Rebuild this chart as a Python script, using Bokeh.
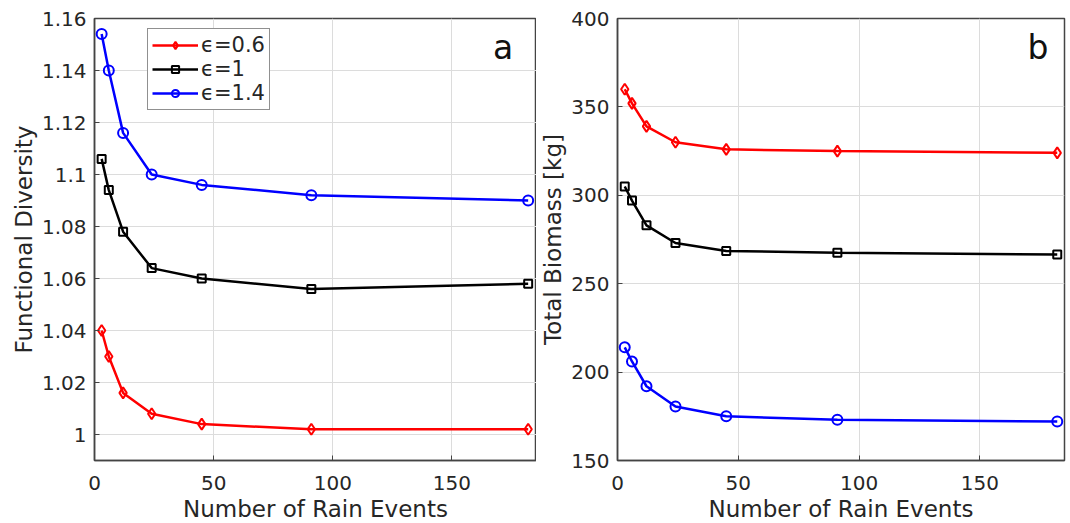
from bokeh.plotting import figure
from bokeh.layouts import row
from bokeh.models import FixedTicker, CustomJSTickFormatter, Label, Legend, LegendItem, Range1d
from bokeh.embed import file_html
from bokeh.resources import INLINE

rain_events = [3, 6, 12, 24, 45, 91, 182]
series_labels = ["ϵ=0.6", "ϵ=1", "ϵ=1.4"]
colors = ["#ff0000", "#000000", "#0000ff"]
markers = ["diamond", "square", "circle"]

diversity_eps06 = [1.040, 1.030, 1.016, 1.008, 1.004, 1.002, 1.002]
diversity_eps1 = [1.106, 1.094, 1.078, 1.064, 1.060, 1.056, 1.058]
diversity_eps14 = [1.154, 1.140, 1.116, 1.100, 1.096, 1.092, 1.090]

biomass_eps06 = [360, 352, 339, 330, 326, 325, 324]
biomass_eps1 = [305, 297, 283, 273, 268.5, 267.5, 266.5]
biomass_eps14 = [214, 206, 192, 180.5, 175, 173, 172]

x_ticks = [0, 50, 100, 150]
left_y_ticks = [1.0, 1.02, 1.04, 1.06, 1.08, 1.1, 1.12, 1.14, 1.16]
right_y_ticks = [150, 200, 250, 300, 350, 400]

FONT = "DejaVu Sans"
TXT = "#262626"
AX = "#444444"
GRID = "#dcdcdc"


def style(p, xlabel, ylabel, yticks):
    p.xaxis.ticker = FixedTicker(ticks=x_ticks)
    p.yaxis.ticker = FixedTicker(ticks=yticks)
    p.yaxis.formatter = CustomJSTickFormatter(
        code="var s = tick.toFixed(2); if (s.indexOf('.')>=0) { s = s.replace(/0+$/, '').replace(/\\.$/, ''); } return s;")
    p.xaxis.formatter = CustomJSTickFormatter(code="return tick.toFixed(0);")
    for ax in (p.xaxis[0], p.yaxis[0]):
        ax.axis_line_color = AX
        ax.axis_line_width = 1.5
        ax.major_tick_line_color = AX
        ax.major_tick_in = 5
        ax.major_tick_out = 0
        ax.minor_tick_line_color = None
        ax.major_label_text_font = FONT
        ax.major_label_text_font_size = "20px"
        ax.major_label_text_color = TXT
        ax.axis_label_text_font = FONT
        ax.axis_label_text_font_size = "23px"
        ax.axis_label_text_font_style = "normal"
        ax.axis_label_text_color = TXT
    p.xaxis.axis_label = xlabel
    p.yaxis.axis_label = ylabel
    p.xaxis.major_label_standoff = 15
    p.xaxis.axis_label_standoff = 3
    p.yaxis.major_label_standoff = 8
    p.yaxis.axis_label_standoff = 2
    p.xgrid.ticker = FixedTicker(ticks=x_ticks)
    p.ygrid.ticker = FixedTicker(ticks=yticks)
    p.grid.grid_line_color = GRID
    p.grid.grid_line_width = 1
    p.outline_line_color = AX
    p.outline_line_width = 1.5
    p.background_fill_color = "white"
    p.border_fill_color = "white"


def add_series(p, ys_list):
    items = []
    for ys, c, m, lab in zip(ys_list, colors, markers, series_labels):
        r1 = p.line(rain_events, ys, line_color=c, line_width=2.5)
        sz = 11 if m == "diamond" else (8 if m == "square" else 10)
        r2 = p.scatter(rain_events, ys, marker=m, size=sz, line_color=c,
                       line_width=2, fill_color="white", fill_alpha=0.0)
        items.append(LegendItem(label=lab, renderers=[r1, r2]))
    return items


p1 = figure(frame_width=442, frame_height=442, output_backend="svg", toolbar_location=None,
            x_range=Range1d(0, 185.5), y_range=Range1d(0.99, 1.16),
            min_border_left=94, min_border_top=18, min_border_right=0, min_border_bottom=61)
style(p1, "Number of Rain Events", "Functional Diversity", left_y_ticks)
items = add_series(p1, [diversity_eps06, diversity_eps1, diversity_eps14])
legend = Legend(items=items, location=(53, 350))
legend.label_text_font = FONT
legend.label_text_font_size = "21px"
legend.label_text_color = TXT
legend.glyph_width = 46
legend.glyph_height = 18
legend.label_height = 18
legend.label_standoff = 3
legend.spacing = 0
legend.padding = 4
legend.margin = 0
legend.border_line_color = "#222222"
legend.border_line_width = 1
legend.background_fill_alpha = 1.0
p1.add_layout(legend, "center")
p1.add_layout(Label(x=171.5, y=1.149, text="a", text_font=FONT, text_font_size="33px",
                    text_color="#111111", text_align="center", text_baseline="middle"))

p2 = figure(frame_width=447, frame_height=442, output_backend="svg", toolbar_location=None,
            x_range=Range1d(0, 185), y_range=Range1d(150, 400),
            min_border_left=81, min_border_top=18, min_border_right=2, min_border_bottom=61)
style(p2, "Number of Rain Events", "Total Biomass [kg]", right_y_ticks)
add_series(p2, [biomass_eps06, biomass_eps1, biomass_eps14])
p2.add_layout(Label(x=174, y=383.5, text="b", text_font=FONT, text_font_size="33px",
                    text_color="#111111", text_align="center", text_baseline="middle"))

layout = row(p1, p2)
open("out.html", "w").write(file_html(layout, INLINE))
